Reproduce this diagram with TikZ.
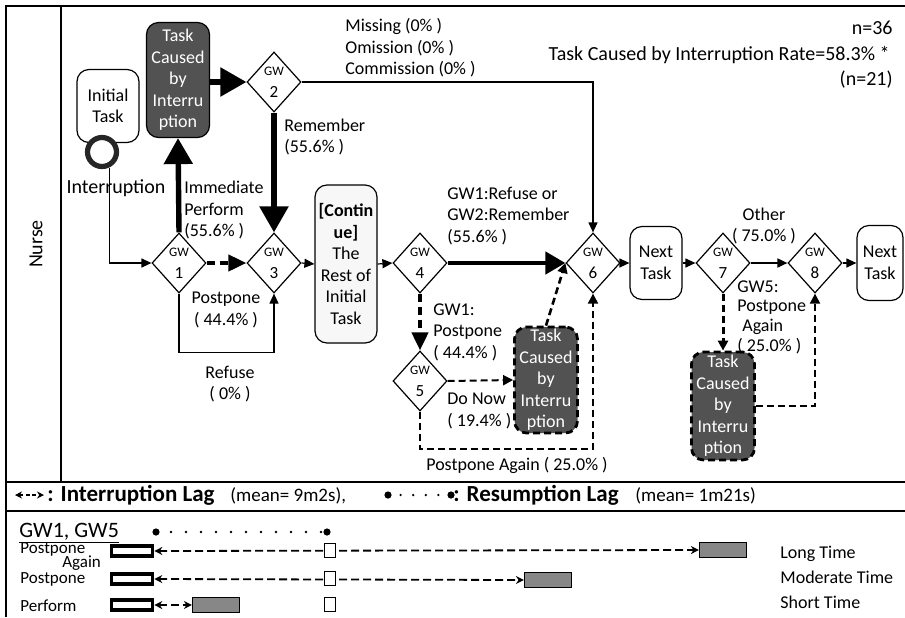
\documentclass[tikz,border=0pt]{standalone}
\usepackage{fontspec}
\setmainfont{Carlito}
\usetikzlibrary{arrows.meta,shapes.geometric,calc}
\definecolor{tk}{RGB}{82,82,82}
\definecolor{lg}{RGB}{135,135,135}
\begin{document}
\begin{tikzpicture}[x=0.5pt,y=-0.5pt,
  every node/.style={font=\fontsize{9}{10.75}\selectfont, inner sep=0pt},
  box/.style={draw, rounded corners=6pt, line width=0.6pt, align=center, fill=white},
  dark/.style={box, fill=tk, text=white},
  dashbox/.style={dark, dash pattern=on 3.5pt off 2pt, line width=1.4pt},
  gw/.style={diamond, draw, line width=0.6pt, fill=white, minimum width=27pt, minimum height=30pt, align=center, font=\fontsize{8.5}{11}\selectfont},
  flow/.style={line width=0.6pt, -{Triangle[length=5pt,width=4.5pt]}},
  big/.style={line width=2.7pt, -{Triangle[length=13pt,width=14pt]}},
  mid/.style={line width=2.2pt, -{Triangle[length=10pt,width=11pt]}},
  dsh/.style={dash pattern=on 3.5pt off 2pt, line width=1pt, -{Triangle[length=5pt,width=5pt]}},
  dshthick/.style={dash pattern=on 4pt off 2.5pt, line width=2pt, -{Triangle[length=9pt,width=8pt]}},
  lbl/.style={align=left, anchor=west},
  frame/.style={line width=0.8pt},
  ldash/.style={dash pattern=on 4pt off 2pt, line width=0.9pt, {Stealth[length=4pt,width=4pt]}-{Stealth[length=4pt,width=4pt]}},
  ldashsmall/.style={dash pattern=on 2pt off 1.2pt, line width=0.9pt, {Stealth[length=3.5pt,width=3.5pt]}-{Stealth[length=3.5pt,width=3.5pt]}},
  rdot/.style={line width=1.3pt, dash pattern=on 0pt off 7.5pt, line cap=round},
  rdotsmall/.style={line width=1.3pt, dash pattern=on 0pt off 6.3pt, line cap=round},
  tbox/.style={draw, line width=1.8pt, minimum width=20.5pt, minimum height=5pt, fill=white},
  sq/.style={draw, line width=0.5pt, minimum width=5.5pt, minimum height=7pt, fill=white},
  dbox/.style={draw, line width=0.6pt, fill=lg, minimum width=23.5pt, minimum height=7.5pt},
  small/.style={font=\fontsize{8.5}{10}\selectfont},
]
\useasboundingbox (0,0) rectangle (905,617);
% frame
\draw[frame] (6,617) -- (6,6) -- (905,6);
\draw[frame] (61,6) -- (61,482);
\draw[frame] (6,482) -- (905,482);
\draw[frame] (6,511) -- (905,511);
\node[rotate=90, font=\fontsize{10}{12}\selectfont] (lane) at (36,244) {Nurse};

% header texts
\node[anchor=east, font=\fontsize{10}{12}\selectfont] (n36) at (893,28) {n=36};
\node[anchor=east, font=\fontsize{10}{12}\selectfont] (rate) at (890,55) {Task Caused by Interruption Rate=58.3\% *};
\node[anchor=east, font=\fontsize{10}{12}\selectfont] (n21) at (893,80) {(n=21)};

% nodes
\node[box, minimum width=31pt, minimum height=36.5pt] (init) at (108,106) {Initial\\Task};
\node[circle, draw=black!85, line width=2.6pt, fill=white, minimum size=14.5pt] (irq) at (102,152) {};
\node[font=\fontsize{10}{12}\selectfont] (irqlbl) at (116,188) {Interruption};
\node[dark, minimum width=31.5pt, minimum height=57.5pt] (task1) at (178,80) {Task\\Caused\\by\\Interru\\ption};
\node[gw] (g1) at (179,263) {{\fontsize{6.5}{7}\selectfont GW}\\1};
\node[gw] (g2) at (274,82) {{\fontsize{6.5}{7}\selectfont GW}\\2};
\node[gw] (g3) at (274,263) {{\fontsize{6.5}{7}\selectfont GW}\\3};
\node[box, fill=gray!6, minimum width=31pt, minimum height=79pt] (cont) at (346,264) {\textbf{[Contin}\\\textbf{ue]}\\The\\Rest of\\Initial\\Task};
\node[gw] (g4) at (420,263) {{\fontsize{6.5}{7}\selectfont GW}\\4};
\node[gw] (g5) at (420,381) {{\fontsize{6.5}{7}\selectfont GW}\\5};
\node[dashbox, minimum width=31.5pt, minimum height=53pt] (task2) at (546,380) {Task\\Caused\\by\\Interru\\ption};
\node[gw] (g6) at (593,263) {{\fontsize{6.5}{7}\selectfont GW}\\6};
\node[box, minimum width=26pt, minimum height=36.5pt] (nt1) at (656,263) {Next\\Task};
\node[gw] (g7) at (723,263) {{\fontsize{6.5}{7}\selectfont GW}\\7};
\node[dashbox, minimum width=31.5pt, minimum height=54pt] (task3) at (723,406) {Task\\Caused\\by\\Interru\\ption};
\node[gw] (g8) at (815,263) {{\fontsize{6.5}{7}\selectfont GW}\\8};
\node[box, minimum width=23pt, minimum height=37.5pt] (nt2) at (880,263) {Next\\Task};

% connectors
\draw[flow] (irq.-65) |- (g1.west);
\draw[big] (g1.north) -- (task1.south);
\draw[big] (g2.west -| task1.east) -- (g2.west);
\draw[big] (g2.south) -- (g3.north);
\draw[flow] (g2.east) -| (g6.north);
\draw[dshthick] (g1.east) -- (g3.west);
\draw[flow] (g1.south) -- ++(0,59) -| (g3.south);
\draw[flow] (g3.east) -- (cont.west);
\draw[flow] (cont.east) -- (g4.west);
\draw[mid] (g4.east) -- (g6.west);
\draw[dshthick] (g4.south) -- (g5.north);
\draw[dsh] (g5.east) -- (task2.west);
\draw[dsh, line width=1.3pt] (task2.north) -- (g6.west);
\draw[dsh] (g5.south) -- ++(0,37) -| (g6.south);
\draw[flow] (g6.east) -- (nt1.west);
\draw[flow] (nt1.east) -- (g7.west);
\draw[flow, line width=0.9pt] (g7.east) -- (g8.west);
\draw[dsh, line width=1.5pt] (g7.south) -- (task3.north);
\draw[dsh] (task3.east) -| (g8.south);
\draw[flow] (g8.east) -- (nt2.west);

% labels
\node[lbl] (l_miss) at (345,48) {Missing (0\% )\\Omission (0\% )\\Commission (0\% )};
\node[lbl] (l_rem) at (284,137) {Remember\\(55.6\% )};
\node[lbl] (l_imm) at (184,210) {Immediate\\Perform\\(55.6\% )};
\node[align=center] (l_post) at (226,310) {Postpone\\( 44.4\% )};
\node[align=center] (l_ref) at (230,384) {Refuse\\( 0\% )};
\node[lbl] (l_g1r) at (447,216) {GW1:Refuse or\\GW2:Remember\\(55.6\% )};
\node[lbl] (l_g1p) at (433,332) {GW1:\\Postpone\\( 44.4\% )};
\node[lbl] (l_do) at (447,411) {Do Now\\( 19.4\% )};
\node (l_pa) at (517,465) {Postpone Again ( 25.0\% )};
\node[align=center] (l_oth) at (764,226) {Other\\( 75.0\% )};
\node[lbl, font=\fontsize{9}{9.8}\selectfont] (l_g5) at (737,317) {GW5:\\Postpone\\\hspace{2.5pt}Again\\( 25.0\% )};

% legend row
\coordinate (la1) at (15,495);
\coordinate (la2) at (44,495);
\draw[ldashsmall] (la1) -- (la2);
\node[anchor=base west, font=\fontsize{11.5}{13}\selectfont\bfseries] (lg1) at (47,501) {: Interruption Lag};
\node[anchor=base west, font=\fontsize{9.5}{12}\selectfont] (lg2) at (230,501) {(mean= 9m2s),};
\coordinate (ra1) at (388,495);
\coordinate (ra2) at (451,495);
\draw[rdotsmall] (ra1) -- (ra2);
\fill (ra1) circle (1.8pt) (ra2) circle (1.8pt);
\node[anchor=base west, font=\fontsize{11.5}{13}\selectfont\bfseries] (lg3) at (453,501) {: Resumption Lag};
\node[anchor=base west, font=\fontsize{9.5}{12}\selectfont] (lg4) at (635,501) {(mean= 1m21s)};

% bottom section
\node[anchor=base west, font=\fontsize{11}{13}\selectfont] (hdr) at (19,537) {\underline{GW1, GW5}};
\coordinate (d1) at (156,532);
\coordinate (d2) at (327,532);
\draw[rdot] (d1) -- (d2);
\fill (d1) circle (1.8pt) (d2) circle (1.8pt);

\node[anchor=base west, small] (r1a) at (20,553) {Postpone};
\node[anchor=base west, small] (r1b) at (62,567) {Again};
\node[anchor=base west, small] (r2) at (20,583) {Postpone};
\node[anchor=base west, small] (r3) at (20,611) {Perform};

\node[tbox] (tb1) at (132,551) {};
\node[tbox] (tb2) at (132,579) {};
\node[tbox] (tb3) at (132,605) {};
\node[dbox] (db1) at (723,550) {};
\node[dbox] (db2) at (548,580) {};
\node[dbox] (db3) at (216,605) {};
\draw[ldash] (tb1.east) -- (db1.west);
\draw[ldash] (tb2.east) -- (db2.west);
\draw[ldash] (tb3.east) -- (db3.west);
\node[sq] (sq1) at (330,550) {};
\node[sq] (sq2) at (330,578) {};
\node[sq] (sq3) at (330,604) {};

\node[anchor=base west] (t1) at (780,558) {Long Time};
\node[anchor=base west] (t2) at (780,583) {Moderate Time};
\node[anchor=base west] (t3) at (780,608) {Short Time};
\end{tikzpicture}
\end{document}
